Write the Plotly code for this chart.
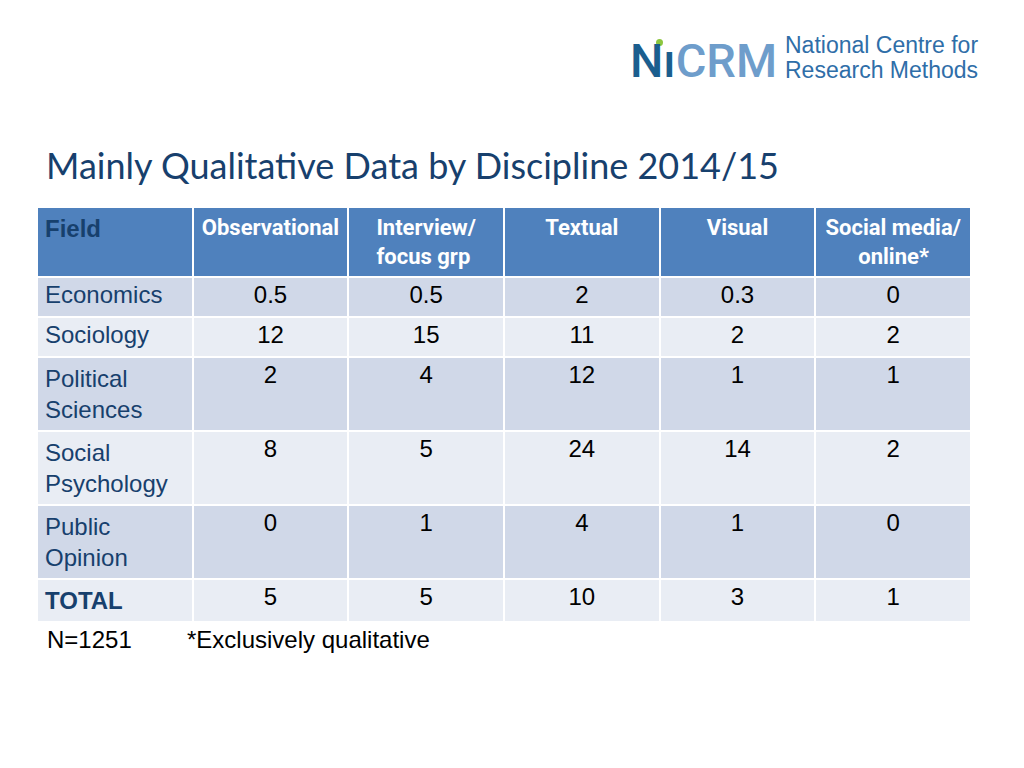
import plotly.graph_objects as go

# ---- data ----
fields = ["Economics", "Sociology", "Political<br>Sciences", "Social<br>Psychology",
          "Public<br>Opinion", "<b>TOTAL</b>"]
NB = "\u00a0"
headers = ["<b>Field</b>", "<b>Observational</b>", "<b>Interview/<br>focus grp</b>",
           "<b>Textual</b>", "<b>Visual</b>",
           "<b>Social media/<br>" + NB * 6 + "online*</b>"]
observational = [0.5, 12, 2, 8, 0, 5]
interview = [0.5, 15, 4, 5, 1, 5]
textual = [2, 11, 12, 24, 4, 10]
visual = [0.3, 2, 1, 14, 1, 3]
social_media = [0, 2, 1, 2, 0, 1]

title = "Mainly Qualitative Data by Discipline 2014/15"
note_n = "N=1251"
note_star = "*Exclusively qualitative"
logo_line1 = "National Centre for"
logo_line2 = "Research Methods"

HEADER_BG = "#4F81BD"
ROW_A = "#D0D8E8"
ROW_B = "#E9EDF4"
NAVY = "#17406D"

columns = [fields, observational, interview, textual, visual, social_media]
n_rows = len(fields)
row_colors = [ROW_A if i % 2 == 0 else ROW_B for i in range(n_rows)]
fill = [row_colors for _ in columns]
font_colors = [[NAVY] * n_rows] + [["#000000"] * n_rows for _ in columns[1:]]

W, H = 1024, 768


def px(x):
    return x / W


def py(y):
    return 1 - y / H


narrow = "Roboto, Liberation Sans, Arial"
fig = go.Figure()
fig.add_trace(go.Table(
    domain=dict(x=[px(37), px(971)], y=[0, py(207)]),
    columnwidth=[1] * 6,
    header=dict(
        values=headers,
        fill=dict(color=HEADER_BG),
        line=dict(color="white", width=2),
        align=["left"] + ["center"] * 5,
        font=dict(family=["Liberation Sans, Arial"] + [narrow] * 5,
                  size=[24, 22, 22, 22, 22, 22],
                  color=[NAVY] + ["white"] * 5),
        height=40,
    ),
    cells=dict(
        values=columns,
        fill=dict(color=fill),
        line=dict(color="white", width=2),
        align=["left"] + ["center"] * 5,
        font=dict(family="Liberation Sans, Arial", size=24, color=font_colors),
        height=40,
    ),
))

fig.add_annotation(text=title, x=px(44), y=py(165), xref="paper", yref="paper",
                   xanchor="left", yanchor="middle", showarrow=False,
                   font=dict(family="Lato, Open Sans, sans-serif", size=36, color=NAVY))
fig.add_annotation(text=note_n, x=px(45), y=py(639), xref="paper", yref="paper",
                   xanchor="left", yanchor="middle", showarrow=False,
                   font=dict(family="Liberation Sans, Arial", size=24, color="black"))
fig.add_annotation(text=note_star, x=px(185), y=py(639), xref="paper", yref="paper",
                   xanchor="left", yanchor="middle", showarrow=False,
                   font=dict(family="Liberation Sans, Arial", size=24, color="black"))

# logo
fig.add_annotation(text="<span style='color:#1B5E8E'>N\u0131</span>"
                        "<span style='color:#6E9DCB'>CRM</span>",
                   x=px(628), y=py(60), xref="paper", yref="paper",
                   xanchor="left", yanchor="middle", showarrow=False,
                   font=dict(family="Roboto, sans-serif", size=47, weight=500))
fig.add_shape(type="circle", xref="paper", yref="paper",
              x0=px(656), x1=px(663), y0=py(46), y1=py(39),
              fillcolor="#8DC63F", line=dict(width=0))
fig.add_annotation(text=logo_line1, x=px(783), y=py(45), xref="paper", yref="paper",
                   xanchor="left", yanchor="middle", showarrow=False,
                   font=dict(family="Liberation Sans, Arial", size=23, color="#2F6EA8"))
fig.add_annotation(text=logo_line2, x=px(783), y=py(70), xref="paper", yref="paper",
                   xanchor="left", yanchor="middle", showarrow=False,
                   font=dict(family="Liberation Sans, Arial", size=23, color="#2F6EA8"))

fig.update_layout(width=W, height=H, margin=dict(l=0, r=0, t=0, b=0),
                  paper_bgcolor="white", plot_bgcolor="white")
fig.write_html("out.html", config={"displayModeBar": False},
               post_script="document.body.style.margin='0';")
